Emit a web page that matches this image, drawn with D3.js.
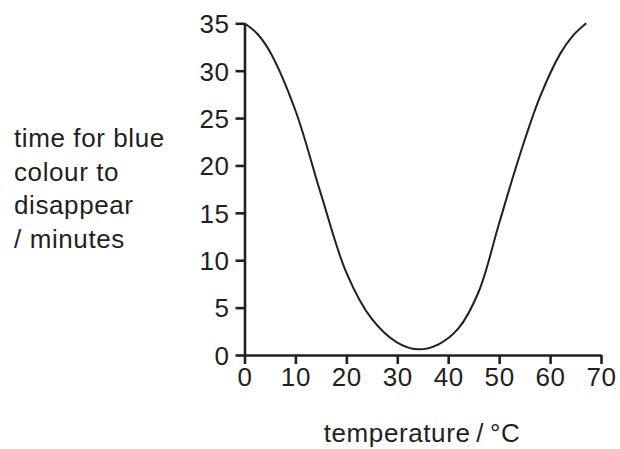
<!DOCTYPE html>
<html lang="en">
<head>
<meta charset="UTF-8">
<title>time for blue colour to disappear</title>
<script src="https://d3js.org/d3.v7.min.js"></script>
<style>
  body { margin: 0; background: #fff; }
  text { font-family: "Liberation Sans", Arial, sans-serif; fill: #231f20; letter-spacing: 0.6px; }
</style>
</head>
<body>
<script>
// values
var temperature = [0, 2.5, 5, 10, 15, 20, 25, 30, 34, 38, 42, 46, 50, 54, 58, 62, 64.5, 67.1];
var minutes =     [35, 33.9, 32, 25.8, 17, 8.7, 3.8, 1.3, 0.6, 1.1, 2.8, 6.7, 13.9, 21, 27.2, 31.8, 33.7, 35];
var xTicks = [0, 10, 20, 30, 40, 50, 60, 70];
var yTicks = [0, 5, 10, 15, 20, 25, 30, 35];
var yLabel = ["time for blue", "colour to", "disappear", "/ minutes"];
var xLabel = "temperature\u2009/\u2009°C";

var W = 620, H = 449;
var ink = '#231f20';

var svg = d3.select('body').append('svg')
    .attr('width', W)
    .attr('height', H);

var x = d3.scaleLinear().domain([0, 70]).range([244.5, 601]);
var y = d3.scaleLinear().domain([0, 35]).range([355, 23.3]);

var xAxis = svg.append('g')
    .attr('transform', 'translate(0,' + y(0) + ')')
    .call(d3.axisBottom(x).tickValues(xTicks).tickSize(9).tickPadding(4).tickSizeOuter(0));

var yAxis = svg.append('g')
    .attr('transform', 'translate(' + x(0) + ',0)')
    .call(d3.axisLeft(y).tickValues(yTicks).tickSize(9).tickPadding(6).tickSizeOuter(0));

[xAxis, yAxis].forEach(function(a){
    a.selectAll('path, line').attr('stroke', ink).attr('stroke-width', 2.6);
    a.selectAll('text')
        .attr('fill', ink)
        .style('font-size', '26px')
        .style('font-family', '"Liberation Sans", Arial, sans-serif');
});
yAxis.selectAll('text').attr('dy', '0.36em');

var line = d3.line()
    .x(function(d, i){ return x(temperature[i]); })
    .y(function(d){ return y(d); })
    .curve(d3.curveCatmullRom.alpha(0.5));

svg.append('path')
    .datum(minutes)
    .attr('d', line)
    .attr('fill', 'none')
    .attr('stroke', ink)
    .attr('stroke-width', 2);

svg.append('g').selectAll('text')
    .data(yLabel)
    .enter()
    .append('text')
    .attr('x', 14)
    .attr('y', function(d, i){ return 147 + i * 33.7; })
    .style('font-size', '26px')
    .text(function(d){ return d; });

svg.append('text')
    .attr('x', 422)
    .attr('y', 442)
    .attr('text-anchor', 'middle')
    .style('font-size', '26px')
    .text(xLabel);
</script>
</body>
</html>
